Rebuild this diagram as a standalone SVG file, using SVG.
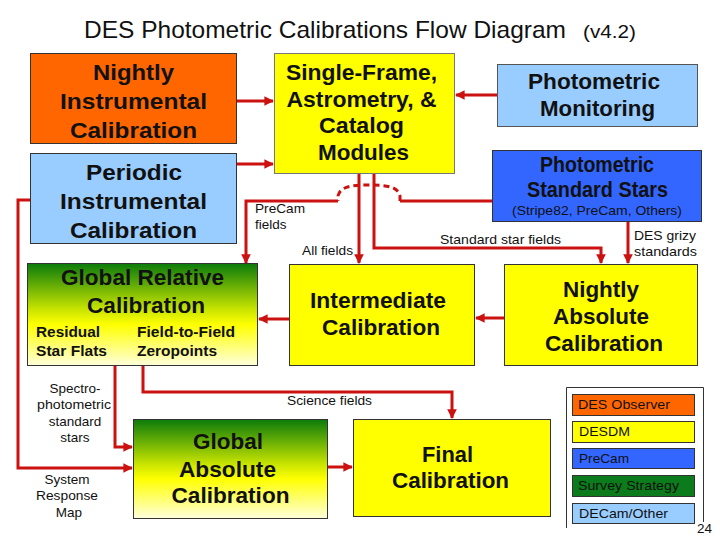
<svg xmlns="http://www.w3.org/2000/svg" width="720" height="540" viewBox="0 0 720 540">
<defs>
<style>
.b{font-family:"Liberation Sans",Arial,sans-serif;font-weight:bold;fill:#111;text-anchor:middle;font-size:22px}
.bl{font-family:"Liberation Sans",Arial,sans-serif;font-weight:bold;fill:#111;text-anchor:start;font-size:15.5px}
.s{font-family:"Liberation Sans",Arial,sans-serif;fill:#111;font-size:13.5px}
.c{text-anchor:middle}
.box{stroke:#333;stroke-width:1}
.ln{fill:none;stroke:#CC1111;stroke-width:3;stroke-linejoin:miter}
.arr{marker-end:url(#ah)}
</style>
<marker id="ah" viewBox="0 0 10 10" refX="9" refY="5" markerWidth="3.2" markerHeight="3.2" orient="auto" markerUnits="strokeWidth">
<path d="M0,0 L10,5 L0,10 z" fill="#CC1111"/>
</marker>
<linearGradient id="gr" x1="0" y1="0" x2="0" y2="1">
<stop offset="0" stop-color="#0B7B0B"/>
<stop offset="0.45" stop-color="#C8E400"/>
<stop offset="0.6" stop-color="#FFFF00"/>
<stop offset="1" stop-color="#FFFFDC"/>
</linearGradient>
</defs>
<rect width="720" height="540" fill="#fff"/>

<g id="title">
<text x="84" y="38" font-family="Liberation Sans,Arial,sans-serif" font-size="24" fill="#111" textLength="482" lengthAdjust="spacingAndGlyphs">DES Photometric Calibrations Flow Diagram</text>
<text x="583" y="38" font-family="Liberation Sans,Arial,sans-serif" font-size="18" fill="#111" textLength="53" lengthAdjust="spacingAndGlyphs">(v4.2)</text>
</g>

<g id="connectors">
<path class="ln arr" d="M237,101 H273"/>
<path class="ln arr" d="M237,164 H273"/>
<path class="ln arr" d="M497,95 H456"/>
<path class="ln arr" d="M30,200 H18 V468 H132"/>
<path class="ln" d="M492,201 H400"/>
<path class="ln" d="M400,201 L400,196 C398,187 388,185 369,185 C350,185 340,187 338,196 L338,201" stroke-dasharray="6,4"/>
<path class="ln arr" d="M338,201 H246 V263"/>
<path class="ln arr" d="M359,174 V263"/>
<path class="ln arr" d="M374,174 V248 H601 V263"/>
<path class="ln arr" d="M628,222 V263"/>
<path class="ln arr" d="M504,318 H476"/>
<path class="ln arr" d="M289,319 H259"/>
<path class="ln arr" d="M115,366 V447 H132"/>
<path class="ln arr" d="M143,366 V392 H452 V418"/>
<path class="ln arr" d="M328,467 H352"/>
</g>

<g id="labels">
<text class="s" x="255" y="213" textLength="50" lengthAdjust="spacingAndGlyphs">PreCam</text>
<text class="s" x="255" y="229">fields</text>
<text class="s" x="302" y="255" textLength="51" lengthAdjust="spacingAndGlyphs">All fields</text>
<text class="s" x="440" y="244" textLength="121" lengthAdjust="spacingAndGlyphs">Standard star fields</text>
<text class="s" x="634" y="240" textLength="62" lengthAdjust="spacingAndGlyphs">DES grizy</text>
<text class="s" x="634" y="256" textLength="63" lengthAdjust="spacingAndGlyphs">standards</text>
<text class="s c" x="75" y="393">Spectro-</text>
<text class="s c" x="74" y="409" textLength="74" lengthAdjust="spacingAndGlyphs">photometric</text>
<text class="s c" x="75" y="426">standard</text>
<text class="s c" x="75" y="442">stars</text>
<text class="s c" x="67" y="484">System</text>
<text class="s c" x="67" y="500" textLength="62" lengthAdjust="spacingAndGlyphs">Response</text>
<text class="s c" x="69" y="517">Map</text>
<text class="s" x="287" y="405" textLength="85" lengthAdjust="spacingAndGlyphs">Science fields</text>
</g>

<g id="nightly-instrumental">
<rect class="box" x="30.5" y="53.5" width="206" height="90" fill="#FF6600"/>
<text class="b" x="133.5" y="80" textLength="81" lengthAdjust="spacingAndGlyphs">Nightly</text>
<text class="b" x="133.5" y="109" textLength="147" lengthAdjust="spacingAndGlyphs">Instrumental</text>
<text class="b" x="133.5" y="138" textLength="127" lengthAdjust="spacingAndGlyphs">Calibration</text>
</g>

<g id="periodic-instrumental">
<rect class="box" x="30.5" y="153.5" width="206" height="90" fill="#99CCFF"/>
<text class="b" x="134" y="180" textLength="96" lengthAdjust="spacingAndGlyphs">Periodic</text>
<text class="b" x="133.5" y="209" textLength="147" lengthAdjust="spacingAndGlyphs">Instrumental</text>
<text class="b" x="133.5" y="238" textLength="127" lengthAdjust="spacingAndGlyphs">Calibration</text>
</g>

<g id="single-frame">
<rect x="274.5" y="53.5" width="180" height="120" fill="#FFFF00" stroke="#777" stroke-width="1"/>
<text class="b" x="361.5" y="80" font-size="20" textLength="151" lengthAdjust="spacingAndGlyphs">Single-Frame,</text>
<text class="b" x="361.5" y="107" font-size="20" textLength="150" lengthAdjust="spacingAndGlyphs">Astrometry, &amp;</text>
<text class="b" x="361.5" y="133" font-size="20" textLength="85" lengthAdjust="spacingAndGlyphs">Catalog</text>
<text class="b" x="363.5" y="160" font-size="20" textLength="91" lengthAdjust="spacingAndGlyphs">Modules</text>
</g>

<g id="photometric-monitoring">
<rect x="497.5" y="64.5" width="200" height="62" fill="#99CCFF" stroke="#555" stroke-width="1"/>
<text class="b" x="594" y="89" textLength="132" lengthAdjust="spacingAndGlyphs">Photometric</text>
<text class="b" x="597.5" y="116" textLength="115" lengthAdjust="spacingAndGlyphs">Monitoring</text>
</g>

<g id="photometric-standard-stars">
<rect class="box" x="492.5" y="150.5" width="209" height="71" fill="#3366FF"/>
<text class="b" x="597" y="172" font-size="19" textLength="114" lengthAdjust="spacingAndGlyphs">Photometric</text>
<text class="b" x="597.5" y="197" font-size="19" textLength="141" lengthAdjust="spacingAndGlyphs">Standard Stars</text>
<text class="s c" x="597" y="215" textLength="170" lengthAdjust="spacingAndGlyphs">(Stripe82, PreCam, Others)</text>
</g>

<g id="global-relative">
<rect class="box" x="27.5" y="263.5" width="230" height="102" fill="url(#gr)"/>
<text class="b" x="142.5" y="285" textLength="163" lengthAdjust="spacingAndGlyphs">Global Relative</text>
<text class="b" x="146" y="313" textLength="118" lengthAdjust="spacingAndGlyphs">Calibration</text>
<text class="bl" x="36" y="337" textLength="64" lengthAdjust="spacingAndGlyphs">Residual</text>
<text class="bl" x="36" y="356" textLength="71" lengthAdjust="spacingAndGlyphs">Star Flats</text>
<text class="bl" x="137" y="337" textLength="98" lengthAdjust="spacingAndGlyphs">Field-to-Field</text>
<text class="bl" x="137" y="356" textLength="80" lengthAdjust="spacingAndGlyphs">Zeropoints</text>
</g>

<g id="intermediate">
<rect class="box" x="289.5" y="264.5" width="185" height="101" fill="#FFFF00"/>
<text class="b" x="378" y="308" textLength="136" lengthAdjust="spacingAndGlyphs">Intermediate</text>
<text class="b" x="381" y="335" textLength="118" lengthAdjust="spacingAndGlyphs">Calibration</text>
</g>

<g id="nightly-absolute">
<rect class="box" x="504.5" y="264.5" width="193" height="101" fill="#FFFF00"/>
<text class="b" x="601" y="297" textLength="76" lengthAdjust="spacingAndGlyphs">Nightly</text>
<text class="b" x="601" y="324" textLength="96" lengthAdjust="spacingAndGlyphs">Absolute</text>
<text class="b" x="604" y="351" textLength="118" lengthAdjust="spacingAndGlyphs">Calibration</text>
</g>

<g id="global-absolute">
<rect class="box" x="133.5" y="419.5" width="194" height="99" fill="url(#gr)"/>
<text class="b" x="228" y="449" textLength="70" lengthAdjust="spacingAndGlyphs">Global</text>
<text class="b" x="227.5" y="477" textLength="97" lengthAdjust="spacingAndGlyphs">Absolute</text>
<text class="b" x="230.5" y="503" textLength="118" lengthAdjust="spacingAndGlyphs">Calibration</text>
</g>

<g id="final">
<rect class="box" x="353.5" y="419.5" width="197" height="97" fill="#FFFF00"/>
<text class="b" x="447.5" y="462" textLength="51" lengthAdjust="spacingAndGlyphs">Final</text>
<text class="b" x="450.5" y="488" textLength="117" lengthAdjust="spacingAndGlyphs">Calibration</text>
</g>

<g id="legend">
<path d="M566.5,528 V387.5 H703.5 V522" fill="none" stroke="#333" stroke-width="1"/>
<rect class="box" x="572.5" y="394.5" width="122" height="21" fill="#FF6600" stroke-width="0.8"/>
<text class="s" x="578" y="409" textLength="92" lengthAdjust="spacingAndGlyphs">DES Observer</text>
<rect class="box" x="572.5" y="421.5" width="122" height="21" fill="#FFFF00" stroke-width="0.8"/>
<text class="s" x="579" y="436" textLength="51" lengthAdjust="spacingAndGlyphs">DESDM</text>
<rect class="box" x="572.5" y="448.5" width="122" height="20" fill="#3366FF" stroke-width="0.8"/>
<text class="s" x="579" y="463" textLength="50" lengthAdjust="spacingAndGlyphs">PreCam</text>
<rect class="box" x="572.5" y="475.5" width="122" height="21" fill="#0B7B1B" stroke-width="0.8"/>
<text class="s" x="578" y="490" textLength="101" lengthAdjust="spacingAndGlyphs">Survey Strategy</text>
<rect class="box" x="572.5" y="503.5" width="122" height="20" fill="#99CCFF" stroke-width="0.8"/>
<text class="s" x="579" y="518" textLength="89" lengthAdjust="spacingAndGlyphs">DECam/Other</text>
<text class="s" x="697" y="533" font-size="14">24</text>
</g>
</svg>
